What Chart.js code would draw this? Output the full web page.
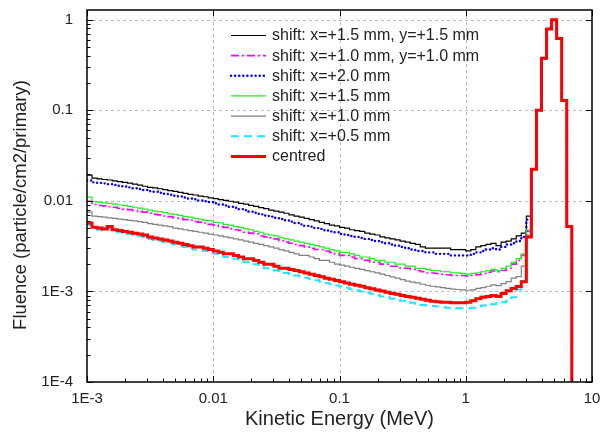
<!DOCTYPE html>
<html>
<head>
<meta charset="utf-8">
<script src="https://cdn.jsdelivr.net/npm/chart.js@4.4.1/dist/chart.umd.min.js"></script>
<style>
  html, body { margin: 0; padding: 0; background: #fff; }
  canvas { display: block; }
</style>
</head>
<body>
<canvas id="fluence" width="602" height="437"></canvas>
<script>
// log bins, 25 per decade, lower edges
const binMantissas = [1.000, 1.096, 1.202, 1.318, 1.445, 1.585, 1.738, 1.905, 2.089, 2.291,
  2.512, 2.754, 3.020, 3.311, 3.631, 3.981, 4.365, 4.786, 5.248, 5.754,
  6.310, 6.918, 7.586, 8.318, 9.120];
const binDecades = [0.001, 0.01, 0.1, 1];

// fluence per bin below the primary peak
const shiftXY15 = [
  0.0192, 0.0178, 0.0175, 0.0172, 0.0170, 0.0166, 0.0163, 0.0160, 0.0157, 0.0153,
  0.0149, 0.0145, 0.0141, 0.0139, 0.0136, 0.0133, 0.0130, 0.0127, 0.0124, 0.0121,
  0.0118, 0.0116, 0.0113, 0.0111, 0.0108, 0.0106, 0.0103, 0.0101, 0.0099, 0.0097,
  0.0094, 0.0092, 0.0089, 0.0087, 0.0084, 0.0082, 0.0079, 0.0077, 0.0075, 0.0073,
  0.0070, 0.0068, 0.0066, 0.0064, 0.0062, 0.0060, 0.0058, 0.0056, 0.0054, 0.0053,
  0.0051, 0.0050, 0.0048, 0.0047, 0.0046, 0.0044, 0.0043, 0.0042, 0.0040, 0.0039,
  0.0038, 0.0037, 0.0036, 0.0035, 0.0034, 0.0033, 0.0031, 0.0030, 0.0030, 0.0030,
  0.0030, 0.0030, 0.0029, 0.0029, 0.0029, 0.0028, 0.0029, 0.0031, 0.0032, 0.0033,
  0.0034, 0.0032, 0.0035, 0.0036, 0.0038, 0.0041, 0.0044, 0.0068];
const shiftXY10 = [
  0.0099, 0.0091, 0.0089, 0.0088, 0.0086, 0.0085, 0.0083, 0.0081, 0.0080, 0.0078,
  0.0076, 0.0075, 0.0073, 0.0071, 0.0070, 0.0068, 0.0067, 0.0065, 0.0064, 0.0062,
  0.0061, 0.0059, 0.0058, 0.0057, 0.0055, 0.0054, 0.0052, 0.0051, 0.0049, 0.0048,
  0.0047, 0.0045, 0.0044, 0.0043, 0.0041, 0.0040, 0.0039, 0.0038, 0.0036, 0.0035,
  0.0034, 0.0033, 0.0032, 0.0031, 0.0030, 0.0029, 0.0029, 0.0028, 0.0027, 0.0026,
  0.0025, 0.0025, 0.0024, 0.0023, 0.0023, 0.0022, 0.0021, 0.0021, 0.0020, 0.0020,
  0.0019, 0.0019, 0.0018, 0.0018, 0.00175, 0.0017, 0.00165, 0.0016, 0.0016, 0.00158,
  0.00155, 0.00153, 0.0015, 0.0015, 0.0015, 0.00148, 0.0015, 0.00153, 0.00158, 0.00163,
  0.00168, 0.00165, 0.0017, 0.0018, 0.0020, 0.0022, 0.0025, 0.0046];
const shiftX20 = [
  0.0168, 0.0160, 0.0158, 0.0156, 0.0153, 0.0150, 0.0147, 0.0144, 0.0141, 0.0138,
  0.0135, 0.0132, 0.0128, 0.0126, 0.0123, 0.0120, 0.0117, 0.0114, 0.0112, 0.0109,
  0.0106, 0.0104, 0.0101, 0.0099, 0.0097, 0.0094, 0.0091, 0.0089, 0.0086, 0.0084,
  0.0081, 0.0079, 0.0076, 0.0074, 0.0071, 0.0069, 0.0067, 0.0065, 0.0063, 0.0061,
  0.0059, 0.0057, 0.0055, 0.0053, 0.0052, 0.0050, 0.0049, 0.0047, 0.0046, 0.0045,
  0.0043, 0.0042, 0.0041, 0.0040, 0.0039, 0.0038, 0.0037, 0.0036, 0.0035, 0.0034,
  0.0033, 0.0032, 0.0031, 0.0030, 0.0029, 0.0028, 0.0028, 0.0027, 0.0027, 0.0026,
  0.0026, 0.0026, 0.0025, 0.0025, 0.0025, 0.0025, 0.0026, 0.0027, 0.0028, 0.0029,
  0.0030, 0.0029, 0.0031, 0.0033, 0.0034, 0.0036, 0.0040, 0.0062];
const shiftX15 = [
  0.0110, 0.0098, 0.0097, 0.0095, 0.0094, 0.0092, 0.0090, 0.0089, 0.0087, 0.0085,
  0.0083, 0.0081, 0.0079, 0.0077, 0.0076, 0.0074, 0.0072, 0.0071, 0.0069, 0.0067,
  0.0066, 0.0064, 0.0063, 0.0061, 0.0060, 0.0058, 0.0057, 0.0055, 0.0054, 0.0052,
  0.0051, 0.0049, 0.0048, 0.0046, 0.0045, 0.0043, 0.0042, 0.0041, 0.0039, 0.0038,
  0.0037, 0.0036, 0.0035, 0.0034, 0.0033, 0.0032, 0.0031, 0.0030, 0.0029, 0.0028,
  0.0027, 0.0027, 0.0026, 0.0025, 0.0024, 0.0024, 0.0023, 0.0022, 0.0022, 0.0021,
  0.0021, 0.0020, 0.0020, 0.0019, 0.0019, 0.0018, 0.0018, 0.00175, 0.0017, 0.0017,
  0.00165, 0.00165, 0.0016, 0.0016, 0.00158, 0.00155, 0.00158, 0.0016, 0.00165, 0.0017,
  0.00175, 0.0017, 0.0018, 0.0019, 0.0021, 0.0023, 0.0026, 0.0048];
const shiftX10 = [
  0.0075, 0.0068, 0.0067, 0.0066, 0.0065, 0.0064, 0.0063, 0.0062, 0.0061, 0.0060,
  0.0059, 0.0058, 0.0056, 0.0055, 0.0054, 0.0053, 0.0052, 0.0050, 0.0049, 0.0048,
  0.0047, 0.0046, 0.0045, 0.0044, 0.0043, 0.0042, 0.0041, 0.0040, 0.0039, 0.0038,
  0.0037, 0.0036, 0.0035, 0.0034, 0.0033, 0.0032, 0.0031, 0.0030, 0.0029, 0.0028,
  0.0027, 0.0026, 0.0025, 0.0025, 0.0024, 0.0023, 0.0022, 0.0022, 0.0021, 0.0020,
  0.00195, 0.0019, 0.00185, 0.0018, 0.00175, 0.0017, 0.00165, 0.0016, 0.00155, 0.0015,
  0.00145, 0.0014, 0.00135, 0.0013, 0.00127, 0.00124, 0.0012, 0.00117, 0.00114, 0.00112,
  0.0011, 0.00108, 0.00106, 0.00105, 0.00104, 0.00103, 0.00104, 0.00108, 0.0011, 0.00114,
  0.00118, 0.00116, 0.00122, 0.00128, 0.0014, 0.00146, 0.0019, 0.0042];
const shiftX05 = [
  0.0054, 0.0049, 0.0048, 0.0047, 0.0049, 0.0046, 0.0045, 0.0044, 0.0043, 0.0042,
  0.0041, 0.0040, 0.0038, 0.0037, 0.0036, 0.0035, 0.0034, 0.0033, 0.0032, 0.0031,
  0.0030, 0.0029, 0.0029, 0.0028, 0.0027, 0.0026, 0.0025, 0.0024, 0.0024, 0.0023,
  0.0022, 0.0021, 0.0021, 0.0020, 0.0019, 0.0018, 0.0018, 0.0017, 0.0016, 0.0016,
  0.00155, 0.0015, 0.00146, 0.00142, 0.00137, 0.00133, 0.00128, 0.00124, 0.0012, 0.00116,
  0.00113, 0.0011, 0.00106, 0.00103, 0.0010, 0.00097, 0.00094, 0.00091, 0.00088, 0.00086,
  0.00083, 0.00081, 0.00079, 0.00077, 0.00075, 0.00073, 0.00071, 0.0007, 0.00069, 0.00068,
  0.00067, 0.00066, 0.00066, 0.00065, 0.00065, 0.00065, 0.00066, 0.00068, 0.0007, 0.00071,
  0.00072, 0.00074, 0.00076, 0.00079, 0.00086, 0.00105, 0.0013, 0.0040];
const centred = [
  0.0057, 0.0051, 0.0050, 0.0049, 0.0052, 0.0048, 0.0047, 0.0046, 0.0045, 0.0044,
  0.0043, 0.0042, 0.0040, 0.0039, 0.0038, 0.0037, 0.0036, 0.0035, 0.0034, 0.0033,
  0.0032, 0.0031, 0.0031, 0.0030, 0.0029, 0.0028, 0.0027, 0.0026, 0.0026, 0.0025,
  0.0024, 0.0023, 0.0023, 0.0022, 0.0021, 0.0020, 0.0020, 0.0019, 0.0018, 0.0018,
  0.00175, 0.0017, 0.00165, 0.0016, 0.00155, 0.0015, 0.00145, 0.0014, 0.00136, 0.00132,
  0.00128, 0.00124, 0.0012, 0.00117, 0.00114, 0.0011, 0.00107, 0.00104, 0.00101, 0.00098,
  0.00095, 0.00093, 0.0009, 0.00088, 0.00086, 0.00084, 0.00082, 0.0008, 0.00078, 0.00077,
  0.00076, 0.00076, 0.00075, 0.00075, 0.00075, 0.00076, 0.00079, 0.00083, 0.00086, 0.00088,
  0.0009, 0.00088, 0.00095, 0.00102, 0.00108, 0.00113, 0.00128, 0.0040];

// primary peak bins, common to all positions
const peak = [0.0223, 0.10, 0.375, 0.79, 1.0, 0.62, 0.128, 0.0052];
const emptyBin = 1e-6;

const seriesLabels = [
  'shift: x=+1.5 mm, y=+1.5 mm',
  'shift: x=+1.0 mm, y=+1.0 mm',
  'shift: x=+2.0 mm',
  'shift: x=+1.5 mm',
  'shift: x=+1.0 mm',
  'shift: x=+0.5 mm',
  'centred'
];
const seriesValues = [shiftXY15, shiftXY10, shiftX20, shiftX15, shiftX10, shiftX05, centred];

const xTickValues = [0.001, 0.01, 0.1, 1, 10];
const xTickLabels = ['1E-3', '0.01', '0.1', '1', '10'];
const yTickValues = [1e-4, 1e-3, 0.01, 0.1, 1];
const yTickLabels = ['1E-4', '1E-3', '0.01', '0.1', '1'];
const yTitle = 'Fluence (particle/cm2/primary)';

// line styles
const colors = ['#000000', '#ff00ff', '#0000ff', '#22ee22', '#808080', '#22e5ff', '#ff0000'];
const widths = [1.2, 1.6, 2.4, 1.2, 1.2, 2, 3];
const dashes = [[], [8, 3, 2, 3], [0.1, 4], [], [], [8, 5], []];
const caps = ['butt', 'butt', 'round', 'butt', 'butt', 'butt', 'butt'];
const drawOrder = [6, 5, 4, 3, 2, 1, 0];

const FONT = '"Liberation Sans", Arial, sans-serif';
const TEXT = '#222';

const edges = [];
binDecades.forEach(d => binMantissas.forEach(m => edges.push(m * d)));

function toPoints(vals) {
  const full = vals.concat(peak, [emptyBin]);
  return full.map((v, k) => ({ x: edges[k], y: v }));
}

function tickLabel(values, labels, v) {
  const i = values.findIndex(t => Math.abs(Math.log10(t) - Math.log10(v)) < 1e-6);
  return i < 0 ? '' : labels[i];
}

// dashed grid, box frame, inward tick marks
const framePlugin = {
  id: 'frame',
  beforeDatasetsDraw(chart) {
    const { ctx, chartArea: a, scales: { x, y } } = chart;
    ctx.save();
    ctx.strokeStyle = '#bdbdbd';
    ctx.lineWidth = 1;
    ctx.setLineDash([3, 3]);
    ctx.beginPath();
    xTickValues.forEach(v => {
      const px = Math.round(x.getPixelForValue(v)) + 0.5;
      if (px > a.left + 2 && px < a.right - 2) { ctx.moveTo(px, a.top); ctx.lineTo(px, a.bottom); }
    });
    yTickValues.forEach(v => {
      const py = Math.round(y.getPixelForValue(v)) + 0.5;
      if (py > a.top + 2 && py < a.bottom - 2) { ctx.moveTo(a.left, py); ctx.lineTo(a.right, py); }
    });
    ctx.stroke();
    ctx.restore();
  },
  afterDatasetsDraw(chart) {
    const { ctx, chartArea: a, scales: { x, y } } = chart;
    ctx.save();
    ctx.strokeStyle = '#000';
    ctx.lineWidth = 1.5;
    ctx.strokeRect(a.left, a.top, a.right - a.left, a.bottom - a.top);
    ctx.lineWidth = 1;
    ctx.beginPath();
    const minors = [2, 3, 4, 5, 6, 7, 8, 9];
    xTickValues.forEach((v, i) => {
      const px = Math.round(x.getPixelForValue(v)) + 0.5;
      ctx.moveTo(px, a.bottom); ctx.lineTo(px, a.bottom - 6);
      ctx.moveTo(px, a.top); ctx.lineTo(px, a.top + 6);
      if (i < xTickValues.length - 1) {
        minors.forEach(m => {
          const mx = Math.round(x.getPixelForValue(m * v)) + 0.5;
          ctx.moveTo(mx, a.bottom); ctx.lineTo(mx, a.bottom - 3.5);
        });
      }
    });
    yTickValues.forEach((v, i) => {
      const py = Math.round(y.getPixelForValue(v)) + 0.5;
      ctx.moveTo(a.left, py); ctx.lineTo(a.left + 6, py);
      ctx.moveTo(a.right, py); ctx.lineTo(a.right - 6, py);
      if (i < yTickValues.length - 1) {
        minors.forEach(m => {
          const my = Math.round(y.getPixelForValue(m * v)) + 0.5;
          ctx.moveTo(a.left, my); ctx.lineTo(a.left + 3.5, my);
        });
      }
    });
    ctx.stroke();

    // vertical axis title, sits a little below the middle of the plot
    ctx.translate(21, 205);
    ctx.rotate(-Math.PI / 2);
    ctx.font = '18.5px ' + FONT;
    ctx.fillStyle = TEXT;
    ctx.textAlign = 'center';
    ctx.textBaseline = 'middle';
    ctx.fillText(yTitle, 0, 0);
    ctx.restore();
  }
};

// legend inside the plot, upper middle
const legendPlugin = {
  id: 'insideLegend',
  afterDatasetsDraw(chart) {
    const { ctx } = chart;
    ctx.save();
    ctx.font = '16px ' + FONT;
    ctx.textBaseline = 'middle';
    ctx.fillStyle = TEXT;
    seriesLabels.forEach((label, i) => {
      const yy = 35.5 + i * 20.15;
      ctx.strokeStyle = colors[i];
      ctx.lineWidth = widths[i];
      ctx.lineCap = caps[i];
      ctx.setLineDash(dashes[i]);
      ctx.beginPath();
      ctx.moveTo(231, yy);
      ctx.lineTo(266, yy);
      ctx.stroke();
      ctx.fillText(label, 272, yy + 0.5);
    });
    ctx.restore();
  }
};

new Chart(document.getElementById('fluence'), {
  type: 'line',
  data: {
    datasets: seriesLabels.map((label, i) => ({
      label,
      data: toPoints(seriesValues[i]),
      borderColor: colors[i],
      backgroundColor: colors[i],
      borderWidth: widths[i],
      borderDash: dashes[i],
      borderCapStyle: caps[i],
      stepped: true,
      pointRadius: 0,
      fill: false,
      order: drawOrder[i],
      clip: 0
    }))
  },
  options: {
    responsive: false,
    animation: false,
    devicePixelRatio: 1,
    layout: { padding: { left: 0, right: 10, top: 10, bottom: 0 } },
    plugins: { legend: { display: false }, tooltip: { enabled: false } },
    scales: {
      x: {
        type: 'logarithmic',
        min: 0.001,
        max: 10,
        afterFit: s => { s.height = 55; s.paddingLeft = 0; s.paddingRight = 0; },
        afterBuildTicks: s => { s.ticks = xTickValues.map(v => ({ value: v, major: true })); },
        grid: { display: false, drawTicks: false },
        border: { display: false },
        ticks: {
          autoSkip: false,
          maxRotation: 0,
          padding: 8,
          color: TEXT,
          font: { family: FONT, size: 15 },
          callback: v => tickLabel(xTickValues, xTickLabels, v)
        },
        title: {
          display: true,
          text: 'Kinetic Energy (MeV)',
          color: TEXT,
          font: { family: FONT, size: 20 },
          padding: { top: 2, bottom: 6 }
        }
      },
      y: {
        type: 'logarithmic',
        min: 1e-4,
        max: 1.28,
        afterFit: s => { s.width = 87; s.paddingTop = 0; s.paddingBottom = 0; },
        afterBuildTicks: s => { s.ticks = yTickValues.map(v => ({ value: v, major: true })); },
        grid: { display: false, drawTicks: false },
        border: { display: false },
        ticks: {
          autoSkip: false,
          padding: 14,
          color: TEXT,
          font: { family: FONT, size: 15 },
          callback: v => tickLabel(yTickValues, yTickLabels, v)
        }
      }
    }
  },
  plugins: [framePlugin, legendPlugin]
});
</script>
</body>
</html>
